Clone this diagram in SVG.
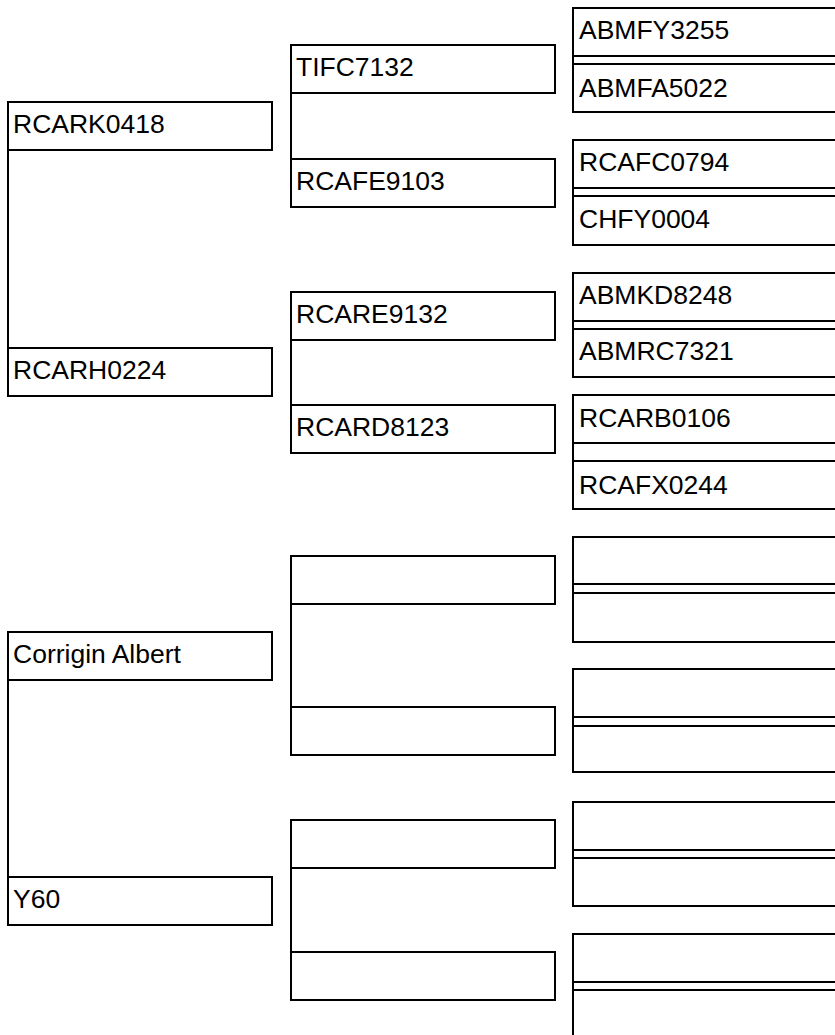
<svg xmlns="http://www.w3.org/2000/svg" width="835" height="1035" viewBox="0 0 835 1035">
<style>
.n rect{fill:#fff;stroke:#000;stroke-width:2}
.c line{stroke:#000;stroke-width:2}
text{font-family:"Liberation Sans",Arial,sans-serif;font-size:26.5px;fill:#000}
</style>
<rect x="0" y="0" width="835" height="1035" fill="#fff"/>
<g class="c" id="connectors">
<line x1="8" y1="150" x2="8" y2="348"/>
<line x1="8" y1="680" x2="8" y2="877"/>
<line x1="291" y1="93" x2="291" y2="159"/>
<line x1="291" y1="340" x2="291" y2="405"/>
<line x1="291" y1="604" x2="291" y2="707"/>
<line x1="291" y1="868" x2="291" y2="952"/>
<line x1="573" y1="56" x2="573" y2="64"/>
<line x1="573" y1="188" x2="573" y2="196"/>
<line x1="573" y1="321" x2="573" y2="329"/>
<line x1="573" y1="443" x2="573" y2="461"/>
<line x1="573" y1="584" x2="573" y2="593"/>
<line x1="573" y1="717" x2="573" y2="726"/>
<line x1="573" y1="850" x2="573" y2="858"/>
<line x1="573" y1="982" x2="573" y2="990"/>
</g>
<g class="n" id="n1"><rect x="8" y="102" width="264" height="48"/><text x="13" y="133">RCARK0418</text></g>
<g class="n" id="n2"><rect x="8" y="348" width="264" height="48"/><text x="13" y="379">RCARH0224</text></g>
<g class="n" id="n3"><rect x="8" y="632" width="264" height="48"/><text x="13" y="663">Corrigin Albert</text></g>
<g class="n" id="n4"><rect x="8" y="877" width="264" height="48"/><text x="13" y="908">Y60</text></g>
<g class="n" id="n5"><rect x="291" y="45" width="264" height="48"/><text x="296" y="76">TIFC7132</text></g>
<g class="n" id="n6"><rect x="291" y="159" width="264" height="48"/><text x="296" y="190">RCAFE9103</text></g>
<g class="n" id="n7"><rect x="291" y="292" width="264" height="48"/><text x="296" y="323">RCARE9132</text></g>
<g class="n" id="n8"><rect x="291" y="405" width="264" height="48"/><text x="296" y="436">RCARD8123</text></g>
<g class="n" id="n9"><rect x="291" y="556" width="264" height="48"/></g>
<g class="n" id="n10"><rect x="291" y="707" width="264" height="48"/></g>
<g class="n" id="n11"><rect x="291" y="820" width="264" height="48"/></g>
<g class="n" id="n12"><rect x="291" y="952" width="264" height="48"/></g>
<g class="n" id="n13"><rect x="573" y="8" width="300" height="48"/><text x="579" y="39">ABMFY3255</text></g>
<g class="n" id="n14"><rect x="573" y="64" width="300" height="48"/><text x="579" y="97">ABMFA5022</text></g>
<g class="n" id="n15"><rect x="573" y="140" width="300" height="48"/><text x="579" y="171">RCAFC0794</text></g>
<g class="n" id="n16"><rect x="573" y="196" width="300" height="49"/><text x="579" y="228">CHFY0004</text></g>
<g class="n" id="n17"><rect x="573" y="273" width="300" height="48"/><text x="579" y="304">ABMKD8248</text></g>
<g class="n" id="n18"><rect x="573" y="329" width="300" height="48"/><text x="579" y="360">ABMRC7321</text></g>
<g class="n" id="n19"><rect x="573" y="395" width="300" height="48"/><text x="579" y="427">RCARB0106</text></g>
<g class="n" id="n20"><rect x="573" y="461" width="300" height="48"/><text x="579" y="494">RCAFX0244</text></g>
<g class="n" id="n21"><rect x="573" y="537" width="300" height="47"/></g>
<g class="n" id="n22"><rect x="573" y="593" width="300" height="49"/></g>
<g class="n" id="n23"><rect x="573" y="669" width="300" height="48"/></g>
<g class="n" id="n24"><rect x="573" y="726" width="300" height="46"/></g>
<g class="n" id="n25"><rect x="573" y="802" width="300" height="48"/></g>
<g class="n" id="n26"><rect x="573" y="858" width="300" height="48"/></g>
<g class="n" id="n27"><rect x="573" y="934" width="300" height="48"/></g>
<g class="n" id="n28"><rect x="573" y="990" width="300" height="48"/></g>
</svg>
